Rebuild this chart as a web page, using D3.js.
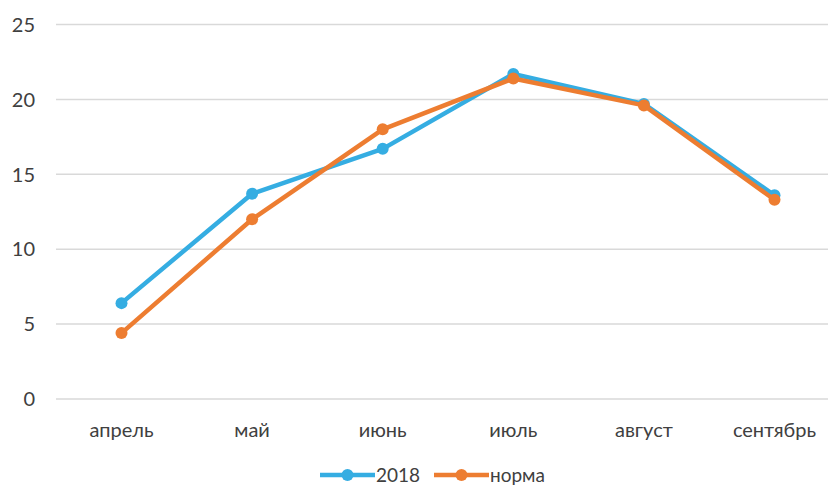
<!DOCTYPE html>
<html>
<head>
<meta charset="utf-8">
<script src="https://cdn.jsdelivr.net/npm/d3@7"></script>
<style>
  body { margin: 0; background: #fff; }
  text { font-family: Lato, "Open Sans", sans-serif; fill: #404040; }
</style>
</head>
<body>
<div id="chart"></div>
<script>
// data
const months = ["апрель", "май", "июнь", "июль", "август", "сентябрь"];
const values2018 = [6.4, 13.7, 16.7, 21.7, 19.7, 13.6];
const valuesNorm = [4.4, 12.0, 18.0, 21.4, 19.6, 13.3];
const yTicks = [0, 5, 10, 15, 20, 25];
const seriesNames = ["2018", "норма"];
const colors = ["#35ade2", "#ed7d31"];

const width = 828, height = 488;
const margin = {top: 24.5, right: -12, bottom: 89, left: 56};

const svg = d3.select("#chart")
    .append("svg")
    .attr("width", width)
    .attr("height", height);

const x = d3.scalePoint()
    .domain(months)
    .range([margin.left + 65.5, width - margin.right - 65.5]);

const y = d3.scaleLinear()
    .domain([0, 25])
    .range([height - margin.bottom, margin.top]);

// gridlines
svg.append("g")
    .selectAll("line")
    .data(yTicks)
    .join("line")
      .attr("x1", margin.left)
      .attr("x2", width)
      .attr("y1", d => y(d))
      .attr("y2", d => y(d))
      .attr("stroke", "#d9d9d9")
      .attr("stroke-width", 1.5);

// y labels
svg.append("g")
    .selectAll("text")
    .data(yTicks)
    .join("text")
      .attr("x", 35)
      .attr("y", d => y(d))
      .attr("dy", "0.36em")
      .attr("text-anchor", "end")
      .style("font-size", "20px")
      .text(d => d);

// x labels
svg.append("g")
    .selectAll("text")
    .data(months)
    .join("text")
      .attr("x", d => x(d))
      .attr("y", 437)
      .attr("text-anchor", "middle")
      .style("font-size", "20px")
      .text(d => d);

const series = [values2018, valuesNorm];
const line = d3.line()
    .x((d, i) => x(months[i]))
    .y(d => y(d));

series.forEach(function (vals, s) {
  const g = svg.append("g");
  g.append("path")
      .datum(vals)
      .attr("d", line)
      .attr("fill", "none")
      .attr("stroke", colors[s])
      .attr("stroke-width", 4.5)
      .attr("stroke-linejoin", "round");
  g.selectAll("circle")
      .data(vals)
      .join("circle")
        .attr("cx", (d, i) => x(months[i]))
        .attr("cy", d => y(d))
        .attr("r", 6)
        .attr("fill", colors[s]);
});

// legend
const legend = svg.append("g");
const legendX = [320, 434];
seriesNames.forEach(function (name, s) {
  const lx = legendX[s];
  legend.append("line")
      .attr("x1", lx).attr("x2", lx + 55)
      .attr("y1", 475).attr("y2", 475)
      .attr("stroke", colors[s])
      .attr("stroke-width", 4.5);
  legend.append("circle")
      .attr("cx", lx + 27.5).attr("cy", 475)
      .attr("r", 6)
      .attr("fill", colors[s]);
  legend.append("text")
      .attr("x", lx + 56)
      .attr("y", 482)
      .style("font-size", "19px")
      .text(name);
});
</script>
</body>
</html>
